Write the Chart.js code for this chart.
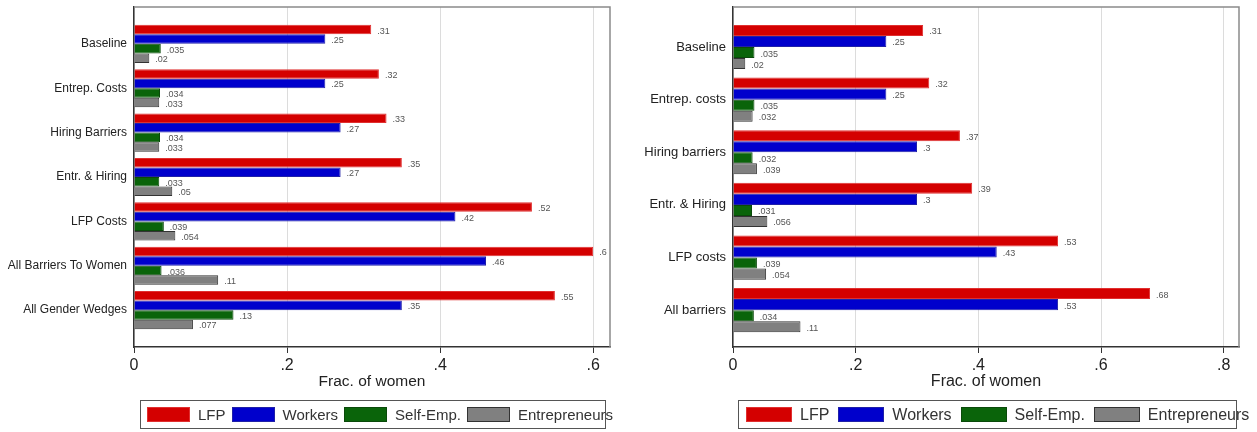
<!DOCTYPE html>
<html>
<head>
<meta charset="utf-8">
<script src="https://cdn.jsdelivr.net/npm/chart.js@4.4.1/dist/chart.umd.min.js"></script>
<style>
body{margin:0;background:#fff;width:1257px;height:432px;overflow:hidden;position:relative;font-family:'Liberation Sans',Arial,sans-serif}
.panel{position:absolute;top:0;height:432px}
.legend{position:absolute;top:400px;height:29px;border:1.5px solid #555;box-sizing:border-box;display:flex;align-items:center;white-space:nowrap;color:#333}
.legend .item{display:flex;align-items:center}
.legend .sw{display:inline-block;height:15px;box-sizing:border-box;border:1px solid;margin-right:8px}
</style>
</head>
<body>
<div class="panel" id="leftPanel" style="left:0;width:622px">
  <canvas id="leftChart" width="622" height="432"></canvas>
  <div class="legend" id="leftLegend" style="left:140px;width:466px;padding-left:6px;font-size:15px"></div>
</div>
<div class="panel" id="rightPanel" style="left:622px;width:635px">
  <canvas id="rightChart" width="635" height="432"></canvas>
  <div class="legend" id="rightLegend" style="left:116px;width:499px;padding-left:7px;font-size:16px"></div>
</div>
<script>
const seriesNames = ['LFP', 'Workers', 'Self-Emp.', 'Entrepreneurs'];
const seriesColors = ['#d40000', '#0000cc', '#0a640a', '#808080'];
const seriesBorders = ['#e03030', '#2020a8', '#0a4a0a', '#333333'];

// left panel
const leftCategories = ['Baseline', 'Entrep. Costs', 'Hiring Barriers', 'Entr. & Hiring', 'LFP Costs', 'All Barriers To Women', 'All Gender Wedges'];
const leftLFP = [0.31, 0.32, 0.33, 0.35, 0.52, 0.6, 0.55];
const leftWorkers = [0.25, 0.25, 0.27, 0.27, 0.42, 0.46, 0.35];
const leftSelfEmp = [0.035, 0.034, 0.034, 0.033, 0.039, 0.036, 0.13];
const leftEntrepreneurs = [0.02, 0.033, 0.033, 0.05, 0.054, 0.11, 0.077];
const leftTicks = [0, 0.2, 0.4, 0.6];

// right panel
const rightCategories = ['Baseline', 'Entrep. costs', 'Hiring barriers', 'Entr. & Hiring', 'LFP costs', 'All barriers'];
const rightLFP = [0.31, 0.32, 0.37, 0.39, 0.53, 0.68];
const rightWorkers = [0.25, 0.25, 0.3, 0.3, 0.43, 0.53];
const rightSelfEmp = [0.035, 0.035, 0.032, 0.031, 0.039, 0.034];
const rightEntrepreneurs = [0.02, 0.032, 0.039, 0.056, 0.054, 0.11];
const rightTicks = [0, 0.2, 0.4, 0.6, 0.8];

const xTitle = 'Frac. of women';

Chart.defaults.font.family = "'Liberation Sans', Arial, sans-serif";
Chart.defaults.color = '#333';

const fmt = v => String(v).replace(/^0(?=\.)/, '');

const valueLabels = {
    id: 'valueLabels',
    afterDatasetsDraw(chart) {
        const ctx = chart.ctx;
        ctx.save();
        ctx.font = "9px 'Liberation Sans', Arial, sans-serif";
        ctx.fillStyle = '#555';
        ctx.textBaseline = 'middle';
        chart.data.datasets.forEach((ds, i) => {
            chart.getDatasetMeta(i).data.forEach((bar, j) => {
                ctx.fillText(fmt(ds.data[j].x), bar.x + 6, bar.y + 1.5);
            });
        });
        ctx.restore();
    }
};

const frame = {
    id: 'frame',
    afterDatasetsDraw(chart) {
        const a = chart.chartArea;
        const ctx = chart.ctx;
        ctx.save();
        ctx.strokeStyle = '#8a8a8a';
        ctx.lineWidth = 1.5;
        ctx.beginPath();
        ctx.moveTo(a.left, a.top);
        ctx.lineTo(a.right, a.top);
        ctx.lineTo(a.right, a.bottom);
        ctx.stroke();
        ctx.restore();
    }
};

function makeChart(id, cats, series, ticks, o) {
    const datasets = series.map((vals, k) => ({
        label: seriesNames[k],
        data: vals.map((v, i) => ({ x: v, y: i })),
        backgroundColor: seriesColors[k],
        borderColor: seriesBorders[k],
        borderWidth: 1,
        barPercentage: 1,
        categoryPercentage: o.catPct
    }));
    return new Chart(document.getElementById(id), {
        type: 'bar',
        data: { datasets },
        options: {
            indexAxis: 'y',
            responsive: false,
            animation: false,
            layout: { padding: { top: 7, right: o.padRight, bottom: 40, left: 0 } },
            plugins: { legend: { display: false }, tooltip: { enabled: false } },
            scales: {
                y: {
                    type: 'linear',
                    reverse: true,
                    offset: false,
                    min: o.yMin,
                    max: o.yMax,
                    afterBuildTicks: s => { s.ticks = cats.map((c, i) => ({ value: i })); },
                    afterFit: s => { s.width = o.axisWidth; s.paddingTop = 0; s.paddingBottom = 0; },
                    grid: { display: false, drawTicks: false, offset: false },
                    border: { display: true, color: '#333', width: 1.5 },
                    ticks: { callback: v => cats[v], padding: 7, color: '#222', font: { size: o.catFont } }
                },
                x: {
                    type: 'linear',
                    min: 0,
                    max: o.xMax,
                    afterBuildTicks: s => { s.ticks = ticks.map(v => ({ value: v })); },
                    afterFit: s => { s.height = 45; },
                    grid: { color: '#dcdcdc', lineWidth: 1, tickLength: 6, tickColor: '#333' },
                    border: { display: true, color: '#333', width: 1.5 },
                    ticks: { callback: v => fmt(v), padding: 3, color: '#222', font: { size: 16 } },
                    title: { display: true, text: xTitle, color: '#222', font: { size: o.titleFont }, padding: { top: 0, bottom: 1 } }
                }
            }
        },
        plugins: [frame, valueLabels]
    });
}

makeChart('leftChart', leftCategories, [leftLFP, leftWorkers, leftSelfEmp, leftEntrepreneurs], leftTicks,
    { catPct: 0.86, padRight: 12, yMin: -0.83, yMax: 6.83, xMax: 0.622, axisWidth: 134, catFont: 12, titleFont: 15.5 });
makeChart('rightChart', rightCategories, [rightLFP, rightWorkers, rightSelfEmp, rightEntrepreneurs], rightTicks,
    { catPct: 0.84, padRight: 18, yMin: -0.76, yMax: 5.70, xMax: 0.825, axisWidth: 111, catFont: 13, titleFont: 16 });

function buildLegend(id, swatchW, gap) {
    const box = document.getElementById(id);
    seriesNames.forEach((name, k) => {
        const item = document.createElement('div');
        item.className = 'item';
        if (k > 0) item.style.marginLeft = gap + 'px';
        const sw = document.createElement('span');
        sw.className = 'sw';
        sw.style.width = swatchW + 'px';
        sw.style.background = seriesColors[k];
        sw.style.borderColor = seriesBorders[k];
        const t = document.createElement('span');
        t.textContent = name;
        item.appendChild(sw);
        item.appendChild(t);
        box.appendChild(item);
    });
}
buildLegend('leftLegend', 43, 6);
buildLegend('rightLegend', 46, 9);
</script>
</body>
</html>
